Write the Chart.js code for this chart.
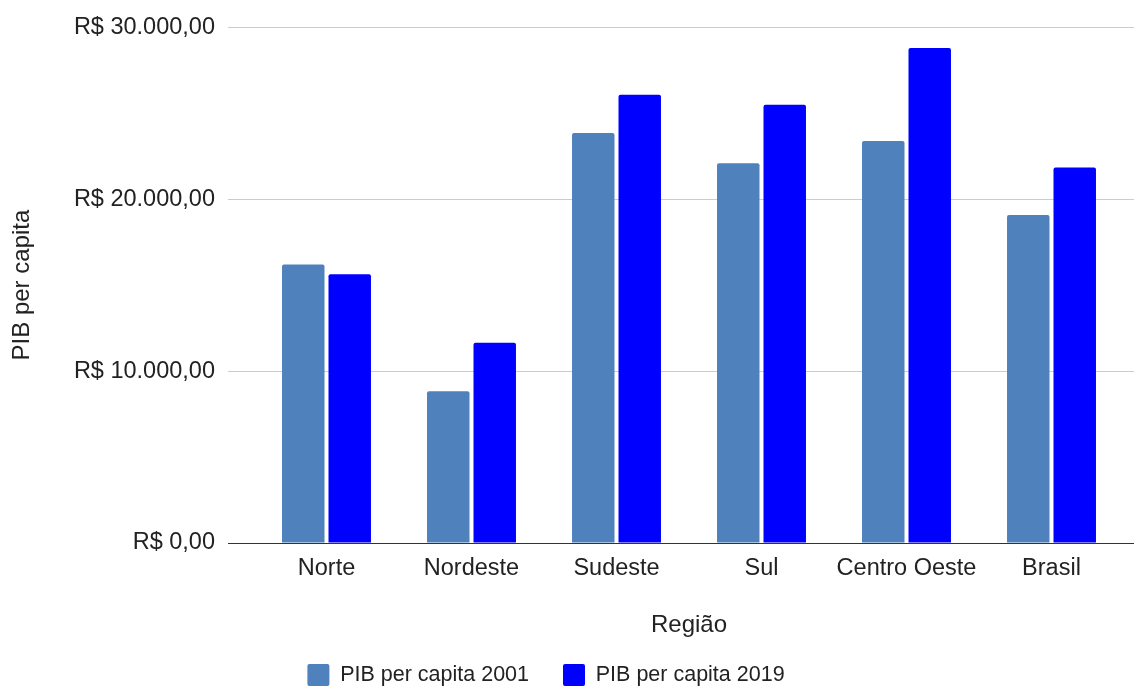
<!DOCTYPE html>
<html>
<head>
<meta charset="utf-8">
<script src="https://cdn.jsdelivr.net/npm/chart.js@4/dist/chart.umd.min.js"></script>
<style>
    html, body { margin: 0; padding: 0; background: #fff; }
    #box { width: 1134px; height: 688px; }
</style>
</head>
<body>
<div id="box"><canvas id="pibChart"></canvas></div>
<script>
// PIB per capita por região, 2001 x 2019
const regioes = ['Norte', 'Nordeste', 'Sudeste', 'Sul', 'Centro Oeste', 'Brasil'];
const pib2001 = [16200, 8830, 23840, 22090, 23380, 19070];
const pib2019 = [15630, 11650, 26070, 25490, 28780, 21840];
const yTicks = [0, 10000, 20000, 30000];

const FONT = '"Liberation Sans", Arial, sans-serif';
const TEXT = '#222222';

function reais(v) {
    let inteiro = Math.round(v).toString().replace(/\B(?=(\d{3})+(?!\d))/g, '.');
    return 'R$ ' + inteiro + ',00';
}

// prolonga as linhas de grade até a borda direita do canvas
const gradeDireita = {
    id: 'gradeDireita',
    beforeDatasetsDraw(chart) {
        const ctx = chart.ctx;
        const y = chart.scales.y;
        ctx.save();
        ctx.lineWidth = 1;
        yTicks.forEach(v => {
            const py = Math.round(y.getPixelForValue(v)) + 0.5;
            ctx.strokeStyle = v === 0 ? '#333333' : '#cccccc';
            ctx.beginPath();
            ctx.moveTo(chart.chartArea.right, py);
            ctx.lineTo(chart.width, py);
            ctx.stroke();
        });
        ctx.restore();
    }
};

// desloca a legenda um pouco para a esquerda
const legendaEsquerda = {
    id: 'legendaEsquerda',
    afterLayout(chart) {
        chart.legend.left -= 16;
        chart.legend.right -= 16;
    }
};

const ctx = document.getElementById('pibChart').getContext('2d');
new Chart(ctx, {
    type: 'bar',
    data: {
        labels: regioes,
        datasets: [{
            label: 'PIB per capita 2001',
            data: pib2001,
            backgroundColor: '#4f81bd',
            borderRadius: 2
        }, {
            label: 'PIB per capita 2019',
            data: pib2019,
            backgroundColor: '#0000ff',
            borderRadius: 2
        }]
    },
    options: {
        responsive: true,
        maintainAspectRatio: false,
        animation: false,
        categoryPercentage: 0.641,
        barPercentage: 0.914,
        layout: { padding: { top: 14, right: 10, left: 0, bottom: 0 } },
        plugins: {
            tooltip: { enabled: false },
            legend: {
                position: 'bottom',
                maxHeight: 58,
                labels: {
                    boxWidth: 22,
                    boxHeight: 22,
                    padding: 34,
                    useBorderRadius: true,
                    borderRadius: 2,
                    color: TEXT,
                    font: { family: FONT, size: 21.5 }
                }
            }
        },
        scales: {
            x: {
                grid: { display: false, drawTicks: false },
                border: { display: false },
                ticks: {
                    color: TEXT,
                    padding: 11,
                    maxRotation: 0,
                    minRotation: 0,
                    autoSkip: false,
                    font: { family: FONT, size: 23.5 }
                },
                title: {
                    display: true,
                    text: 'Região',
                    color: TEXT,
                    font: { family: FONT, size: 24 },
                    padding: { top: 17.4, bottom: -9.4 }
                }
            },
            y: {
                min: 0,
                max: 30000,
                afterBuildTicks(scale) {
                    scale.ticks = yTicks.map(v => ({ value: v }));
                },
                afterFit(scale) {
                    scale.width = 254;
                },
                grid: {
                    color: c => c.tick && c.tick.value === 0 ? '#333333' : '#cccccc',
                    tickLength: 26,
                    lineWidth: 1
                },
                border: { display: false },
                ticks: {
                    color: TEXT,
                    padding: 13,
                    font: { family: FONT, size: 23.5 },
                    callback: v => reais(v)
                },
                title: {
                    display: true,
                    text: 'PIB per capita',
                    color: TEXT,
                    font: { family: FONT, size: 24 },
                    padding: { top: 7.6, bottom: 0 }
                }
            }
        }
    },
    plugins: [gradeDireita, legendaEsquerda]
});
</script>
</body>
</html>
